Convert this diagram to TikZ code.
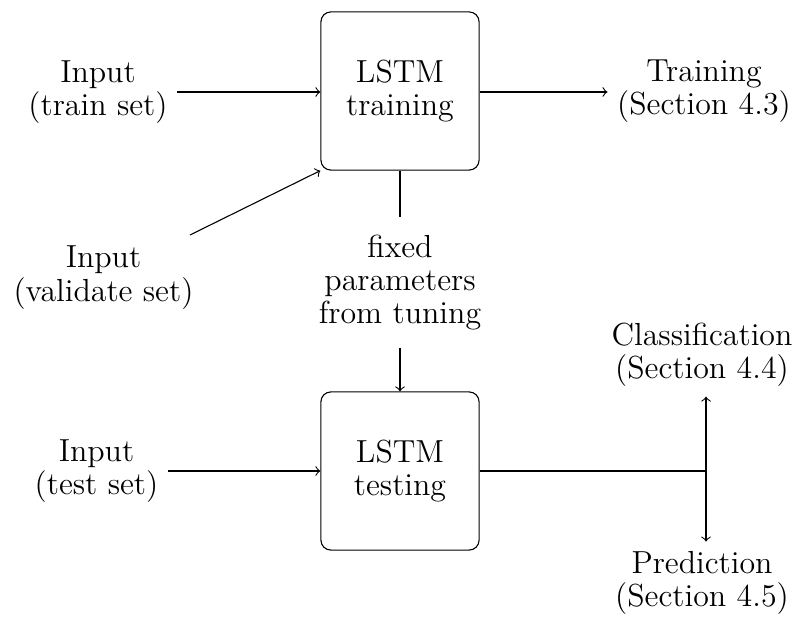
\documentclass[tikz,border=0pt]{standalone}
\begin{document}
\begin{tikzpicture}[x=0.3636pt,y=-0.3636pt,
  every node/.style={font=\fontsize{11.6}{12.1}\selectfont},
  stage/.style={draw,rounded corners=3.6pt,minimum width=57.5pt,minimum height=57.5pt,align=center},
  lbl/.style={align=center},
  flow/.style={->}]
\useasboundingbox (0,0) rectangle (795,617);
% processing stages
\node[stage] (train) at (400,91) {LSTM\\training};
\node[stage] (test) at (400,471) {LSTM\\testing};
% inputs
\node[lbl] (intrain) at (98,92) {Input\\(train set)};
\node[lbl] (inval) at (103.5,277.5) {Input\\(validate set)};
\node[lbl] (intest) at (96.5,471) {Input\\(test set)};
% outputs
\node[lbl] (outtrain) at (704,91) {Training\\(Section 4.3)};
\node[lbl,inner ysep=6.2pt] (params) at (400,282.5) {fixed\\parameters\\from tuning};
\node[lbl] (cls) at (702,355) {Classification\\(Section 4.4)};
\node[lbl] (pred) at (702,583) {Prediction\\(Section 4.5)};
\coordinate (valtip) at (190,235);
\coordinate (split) at (706,471);
% connectors
\draw[flow] (intrain.east) -- (intrain.east -| train.west);
\draw[flow] (intrain.east -| train.east) -- (intrain.east -| outtrain.west);
\draw[flow] (valtip) -- (train.south west);
\draw (train.south) -- (params.north);
\draw[flow] (params.south) -- (test.north);
\draw[flow] (intest.east) -- (test.west |- split);
\draw (test.east |- split) -- (split);
\draw[flow] (split) -- (split |- cls.south);
\draw[flow] (split) -- (split |- pred.north);
\end{tikzpicture}
\end{document}
